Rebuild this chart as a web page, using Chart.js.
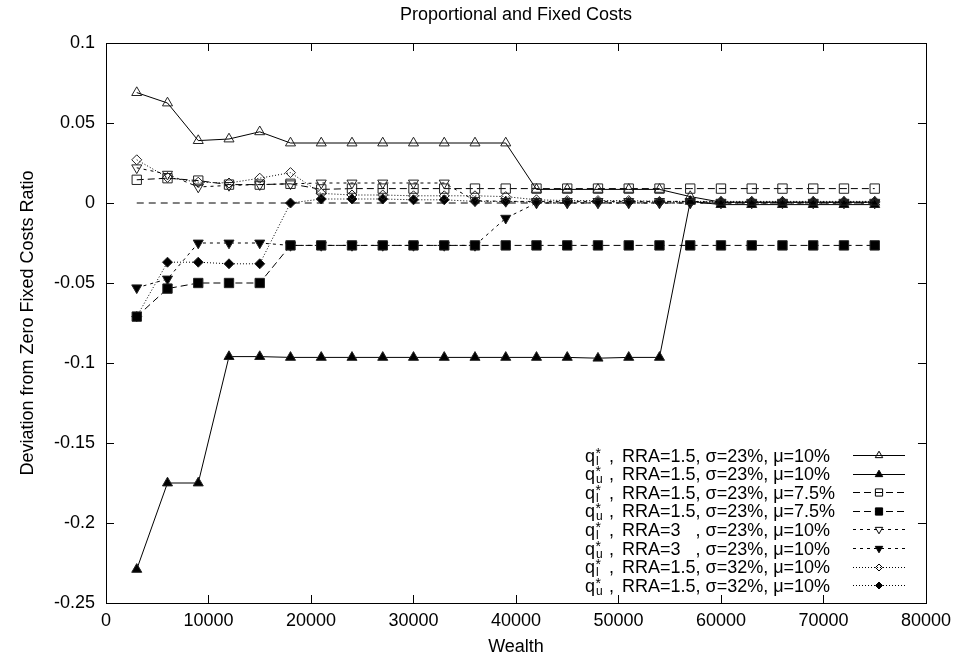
<!DOCTYPE html>
<html>
<head>
<meta charset="utf-8">
<script src="https://cdn.jsdelivr.net/npm/chart.js@4.4.1/dist/chart.umd.min.js"></script>
<style>
    html, body { margin: 0; padding: 0; background: #ffffff; }
    #wrap { width: 958px; height: 664px; }
</style>
</head>
<body>
<div id="wrap"><canvas id="graficoCustos" width="958" height="664"></canvas></div>
<script>
const wealth = [3000, 6000, 9000, 12000, 15000, 18000, 21000, 24000, 27000, 30000, 33000, 36000, 39000,
    42000, 45000, 48000, 51000, 54000, 57000, 60000, 63000, 66000, 69000, 72000, 75000];

// q*l / q*u, RRA=1.5, sigma=23%, mu=10%
const qlA = [0.069, 0.0625, 0.039, 0.040, 0.0445, 0.0375, 0.0375, 0.0375, 0.0375, 0.0375, 0.0375, 0.0375, 0.0375,
    0.0085, 0.0085, 0.0085, 0.0085, 0.0085, 0.004, 0.0005, 0.0005, 0.0005, 0.0005, 0.0005, 0.0005];
const quA = [-0.229, -0.175, -0.175, -0.096, -0.096, -0.0965, -0.0965, -0.0965, -0.0965, -0.0965, -0.0965, -0.0965, -0.0965,
    -0.0965, -0.0965, -0.097, -0.0965, -0.0965, 0.001, -0.001, -0.001, -0.001, -0.001, -0.001, -0.001];

// RRA=1.5, sigma=23%, mu=7.5%
const qlB = [0.0145, 0.0155, 0.014, 0.0115, 0.0115, 0.012, 0.0085, 0.009, 0.009, 0.009, 0.009, 0.009, 0.009,
    0.009, 0.009, 0.009, 0.009, 0.009, 0.009, 0.009, 0.009, 0.009, 0.009, 0.009, 0.009];
const quB = [-0.071, -0.0535, -0.050, -0.050, -0.050, -0.0265, -0.0265, -0.0265, -0.0265, -0.0265, -0.0265, -0.0265, -0.0265,
    -0.0265, -0.0265, -0.0265, -0.0265, -0.0265, -0.0265, -0.0265, -0.0265, -0.0265, -0.0265, -0.0265, -0.0265];

// RRA=3, sigma=23%, mu=10%
const qlC = [0.022, 0.018, 0.010, 0.011, 0.0115, 0.012, 0.0125, 0.0125, 0.0125, 0.0125, 0.0125, 0.0015, 0.001,
    0.001, 0.001, 0.001, 0.001, 0.001, 0.001, 0.0005, 0.0005, 0.0005, 0.0005, 0.0005, 0.0005];
const quC = [-0.053, -0.0475, -0.025, -0.025, -0.025, -0.0265, -0.0265, -0.0265, -0.0265, -0.0265, -0.0265, -0.0265, -0.0095,
    0.0, 0.0, 0.0, 0.0, 0.0, 0.0, 0.0, 0.0, 0.0, 0.0, 0.0, 0.0];

// RRA=1.5, sigma=32%, mu=10%
const qlD = [0.027, 0.016, 0.013, 0.0125, 0.0155, 0.019, 0.006, 0.005, 0.005, 0.0045, 0.0045, 0.0045, 0.004,
    0.002, 0.0015, 0.0015, 0.0015, 0.001, 0.001, 0.001, 0.001, 0.001, 0.001, 0.001, 0.001];
const quD = [-0.071, -0.037, -0.037, -0.038, -0.038, 0.0, 0.0025, 0.0025, 0.0025, 0.002, 0.002, 0.001, 0.001,
    0.0005, 0.0005, 0.0005, 0.0005, 0.0005, 0.0005, 0.0005, 0.0005, 0.0005, 0.0005, 0.0005, 0.0005];

const zeroLine = [0, 0, 0, 0, 0, 0, 0, 0, 0, 0, 0, 0, 0, 0, 0, 0, 0, 0, 0, 0, 0, 0, 0, 0, 0];

const yTicks = [0.1, 0.05, 0, -0.05, -0.1, -0.15, -0.2, -0.25];
const xTicks = [0, 10000, 20000, 30000, 40000, 50000, 60000, 70000, 80000];

const legendSub = ["l", "u", "l", "u", "l", "u", "l", "u"];
const legendRest = [
    "RRA=1.5, σ=23%, μ=10%",
    "RRA=1.5, σ=23%, μ=10%",
    "RRA=1.5, σ=23%, μ=7.5%",
    "RRA=1.5, σ=23%, μ=7.5%",
    "RRA=3   , σ=23%, μ=10%",
    "RRA=3   , σ=23%, μ=10%",
    "RRA=1.5, σ=32%, μ=10%",
    "RRA=1.5, σ=32%, μ=10%"
];

const FONTE = "'Liberation Sans', Arial, Helvetica, sans-serif";

function pontos(valores) {
    return wealth.map(function (w, i) {
        return { x: w, y: valores[i] };
    });
}

function serie(valores, estilo, dash, aberto, rotacao, raio) {
    return {
        data: pontos(valores),
        borderColor: "#000000",
        borderWidth: 1,
        borderDash: dash,
        pointStyle: estilo,
        pointRotation: rotacao,
        pointRadius: raio,
        pointBorderWidth: 1,
        pointBorderColor: "#222222",
        pointBackgroundColor: aberto ? "rgba(0,0,0,0)" : "#000000",
        tension: 0,
        fill: false
    };
}

const series = [
    serie(qlA, "triangle", [], true, 0, 5.8),
    serie(quA, "triangle", [], false, 0, 5.8),
    serie(qlB, "rect", [7, 4], true, 0, 6.6),
    serie(quB, "rect", [7, 4], false, 0, 6.6),
    serie(qlC, "triangle", [3, 4], true, 180, 5.8),
    serie(quC, "triangle", [3, 4], false, 180, 5.8),
    serie(qlD, "rectRot", [1, 2], true, 0, 5),
    serie(quD, "rectRot", [1, 2], false, 0, 5)
];

const linhaZero = {
    data: pontos(zeroLine),
    borderColor: "#000000",
    borderWidth: 1,
    borderDash: [7, 5],
    pointRadius: 0,
    tension: 0,
    fill: false
};

// title over the plot, ticks inward on all four sides, box, and the key
const molduraPlugin = {
    id: "moldura",
    afterDraw: function (chart) {
        const ctx = chart.ctx;
        const area = chart.chartArea;
        const xs = chart.scales.x;
        const ys = chart.scales.y;
        const tam = 8;

        ctx.save();
        ctx.fillStyle = "#000000";
        ctx.font = "18px " + FONTE;
        ctx.textAlign = "center";
        ctx.textBaseline = "middle";
        ctx.fillText("Proportional and Fixed Costs", (area.left + area.right) / 2, 15);

        ctx.strokeStyle = "#000000";
        ctx.lineWidth = 1;
        ctx.setLineDash([]);
        ctx.beginPath();
        yTicks.forEach(function (v) {
            const py = Math.round(ys.getPixelForValue(v)) + 0.5;
            ctx.moveTo(area.left, py);
            ctx.lineTo(area.left + tam, py);
            ctx.moveTo(area.right, py);
            ctx.lineTo(area.right - tam, py);
        });
        xTicks.forEach(function (v) {
            const px = Math.round(xs.getPixelForValue(v)) + 0.5;
            ctx.moveTo(px, area.bottom);
            ctx.lineTo(px, area.bottom - tam);
            ctx.moveTo(px, area.top);
            ctx.lineTo(px, area.top + tam);
        });
        ctx.stroke();
        ctx.strokeRect(Math.round(area.left) + 0.5, Math.round(area.top) + 0.5,
            Math.round(area.right - area.left), Math.round(area.bottom - area.top));

        // legenda
        const xTexto = 585;
        const xLinha1 = 853;
        const xLinha2 = 905;
        const xMarca = 879;
        const y0 = 455;
        const passo = 18.6;

        series.forEach(function (s, i) {
            const y = y0 + i * passo;
            const base = y + 6.5;
            ctx.fillStyle = "#000000";
            ctx.textBaseline = "alphabetic";
            ctx.textAlign = "left";
            ctx.font = "18px " + FONTE;
            ctx.fillText("q", xTexto, base);
            const xq = xTexto + ctx.measureText("q").width + 0.5;
            ctx.font = "14px " + FONTE;
            ctx.fillText("*", xq, base - 4);
            ctx.font = "12px " + FONTE;
            ctx.fillText(legendSub[i], xq + 0.5, base + 3);
            ctx.font = "18px " + FONTE;
            ctx.fillText(",", 609, base);
            ctx.fillText(legendRest[i], 622, base);

            ctx.beginPath();
            ctx.setLineDash(s.borderDash);
            ctx.moveTo(xLinha1, Math.round(y) + 0.5);
            ctx.lineTo(xLinha2, Math.round(y) + 0.5);
            ctx.stroke();
            ctx.setLineDash([]);

            ctx.fillStyle = s.pointBackgroundColor;
            ctx.strokeStyle = "#000000";
            Chart.helpers.drawPoint(ctx, {
                pointStyle: s.pointStyle,
                radius: s.pointRadius - 1.5,
                rotation: s.pointRotation,
                borderWidth: 1
            }, xMarca, Math.round(y) + 0.5);
        });
        ctx.restore();
    }
};

new Chart(document.getElementById("graficoCustos"), {
    type: "line",
    data: {
        datasets: [linhaZero].concat(series)
    },
    plugins: [molduraPlugin],
    options: {
        responsive: false,
        animation: false,
        layout: {
            padding: { left: 0, right: 29, top: 43, bottom: 0 }
        },
        plugins: {
            legend: { display: false },
            tooltip: { enabled: false },
            title: { display: false }
        },
        scales: {
            x: {
                type: "linear",
                min: 0,
                max: 80000,
                grid: { display: false, drawTicks: false },
                border: { display: false },
                afterBuildTicks: function (scale) {
                    scale.ticks = xTicks.map(function (v) { return { value: v }; });
                },
                afterFit: function (scale) {
                    scale.height = 61;
                },
                ticks: {
                    color: "#000000",
                    padding: 7,
                    maxRotation: 0,
                    font: { family: FONTE, size: 18 },
                    callback: function (v) { return String(v); }
                },
                title: {
                    display: true,
                    text: "Wealth",
                    color: "#000000",
                    font: { family: FONTE, size: 18 },
                    padding: { top: 6, bottom: 6 }
                }
            },
            y: {
                type: "linear",
                min: -0.25,
                max: 0.1,
                grid: { display: false, drawTicks: false },
                border: { display: false },
                afterBuildTicks: function (scale) {
                    scale.ticks = yTicks.map(function (v) { return { value: v }; });
                },
                afterFit: function (scale) {
                    scale.width = 106;
                },
                ticks: {
                    color: "#000000",
                    padding: 11,
                    font: { family: FONTE, size: 18 },
                    callback: function (v) { return String(Number(v.toFixed(2))); }
                },
                title: {
                    display: true,
                    text: "Deviation from Zero Fixed Costs Ratio",
                    color: "#000000",
                    font: { family: FONTE, size: 18 },
                    padding: { top: 17, bottom: 0 }
                }
            }
        }
    }
});
</script>
</body>
</html>
